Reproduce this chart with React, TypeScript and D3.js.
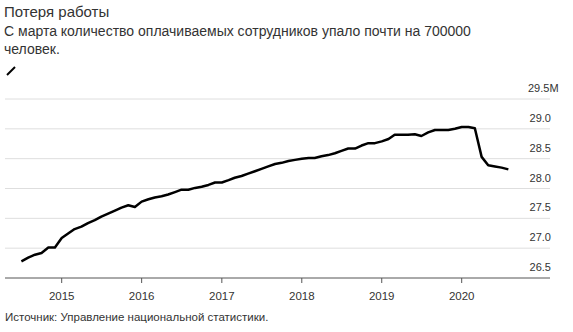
import React from "react";
import * as d3 from "d3";

const title = "Потеря работы";
const subtitleLines = [
  "С марта количество оплачиваемых сотрудников упало почти на 700000",
  "человек.",
];
const source = "Источник: Управление национальной статистики.";

const startMonth = new Date(2014, 6, 1); // Jul 2014
const employees: number[] = [
  // 2014 Jul-Dec
  26.78, 26.84, 26.89, 26.92, 27.01, 27.01,
  // 2015
  27.17, 27.25, 27.32, 27.36, 27.42, 27.47, 27.53, 27.58, 27.63, 27.68, 27.72, 27.69,
  // 2016
  27.78, 27.82, 27.85, 27.87, 27.9, 27.94, 27.98, 27.98, 28.01, 28.03, 28.06, 28.1,
  // 2017
  28.1, 28.14, 28.18, 28.21, 28.25, 28.29, 28.33, 28.37, 28.41, 28.43, 28.46, 28.48,
  // 2018
  28.5, 28.51, 28.51, 28.54, 28.56, 28.59, 28.63, 28.67, 28.67, 28.72, 28.76, 28.76,
  // 2019
  28.79, 28.83, 28.9, 28.9, 28.9, 28.91, 28.88, 28.94, 28.98, 28.98, 28.98, 29.0,
  // 2020 Jan-Aug
  29.03, 29.03, 29.01, 28.53, 28.39, 28.37, 28.35, 28.32,
];
const yTicks = [26.5, 27.0, 27.5, 28.0, 28.5, 29.0, 29.5];
const xTickYears = [2015, 2016, 2017, 2018, 2019, 2020];

const FONT = "'Liberation Sans', Arial, sans-serif";

export default function App() {
  const data = employees.map((v, i) => ({
    date: d3.timeMonth.offset(startMonth, i),
    value: v,
  }));

  const x = d3
    .scaleTime()
    .domain([new Date(2015, 0, 1), new Date(2020, 0, 1)])
    .range([61.7, 461.7]);
  const y = d3.scaleLinear().domain([26.5, 29.5]).range([278, 99]);

  const left = 5;
  const right = 550;

  const line = d3
    .line<{ date: Date; value: number }>()
    .x((d) => x(d.date))
    .y((d) => y(d.value));

  return (
    <svg
      width={573}
      height={332}
      style={{ position: "absolute", left: 0, top: 0, background: "#fff" }}
      fontFamily={FONT}
    >
      <rect width={573} height={332} fill="#fff" />
      <text x={4} y={17} fontSize={15} fill="#333">
        {title}
      </text>
      {subtitleLines.map((s, i) => (
        <text key={i} x={4} y={36 + i * 18} fontSize={14} fill="#333">
          {s}
        </text>
      ))}
      <line x1={7} y1={75} x2={15} y2={67} stroke="#000" strokeWidth={2} />

      {yTicks.map((t) => (
        <g key={t}>
          {t !== 26.5 && (
            <line x1={left} x2={right} y1={y(t)} y2={y(t)} stroke="#dedede" strokeWidth={1} />
          )}
          <text
            x={551}
            y={y(t) - 7}
            fontSize={11}
            fill="#333"
            textAnchor={t === 29.5 ? "start" : "end"}
            dx={t === 29.5 ? -23 : 0}
          >
            {t.toFixed(1) + (t === 29.5 ? "M" : "")}
          </text>
        </g>
      ))}

      <line x1={left} x2={right} y1={y(26.5)} y2={y(26.5)} stroke="#555" strokeWidth={1} />
      {xTickYears.map((yr) => {
        const xx = x(new Date(yr, 0, 1));
        return (
          <g key={yr}>
            <line x1={xx} x2={xx} y1={y(26.5)} y2={y(26.5) + 5} stroke="#555" strokeWidth={1} />
            <text x={xx} y={300} fontSize={11.5} fill="#333" textAnchor="middle">
              {yr}
            </text>
          </g>
        );
      })}

      <path
        d={line(data) || ""}
        fill="none"
        stroke="#000"
        strokeWidth={2.5}
        strokeLinejoin="round"
      />

      <text x={5} y={321} fontSize={11.5} fill="#333">
        {source}
      </text>
    </svg>
  );
}
